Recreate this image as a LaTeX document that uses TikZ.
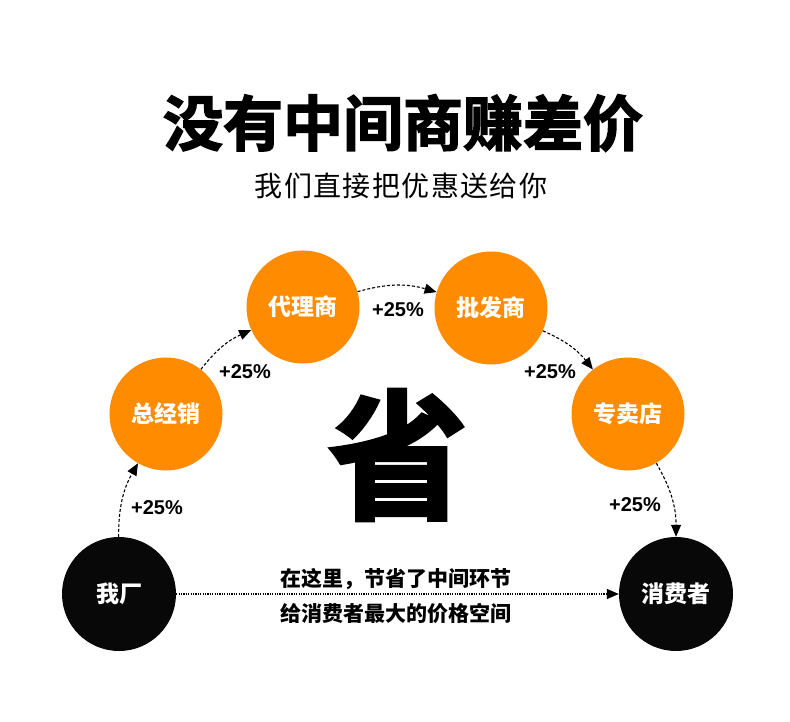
\documentclass[tikz,border=0pt]{standalone}
\usepackage{fontspec}
\usepackage{tikz}
\usetikzlibrary{arrows.meta}
\newfontfamily\cjk{Noto Sans CJK SC}
\newfontfamily\cjkheavy[FakeBold=2.5]{Noto Sans CJK SC Bold}
\newfontfamily\latinsans{Liberation Sans}
\definecolor{dotorange}{RGB}{255,139,0}
\definecolor{dotblack}{RGB}{8,8,8}
\tikzset{every picture/.append style={x=1pt, y=-1pt}}
\tikzset{
    orangedot/.style={circle, fill=dotorange, draw=none, minimum size=113pt,
    	inner sep=0pt, text=white, font=\cjk\bfseries\fontsize{23}{23}\selectfont},
    blackdot/.style={circle, fill=dotblack, draw=none, minimum size=114pt,
    	inner sep=0pt, text=white, font=\cjk\bfseries\fontsize{23}{23}\selectfont},
    gain/.style={inner sep=0pt, font=\latinsans\bfseries\fontsize{20}{20}\selectfont},
    note/.style={inner sep=0pt, font=\cjk\bfseries\fontsize{21}{21}\selectfont},
    hop/.style={-{Triangle[length=12pt,width=10pt]}, line width=1.1pt,
    	dash pattern=on 3pt off 2pt},
    skip/.style={-{Triangle[length=12pt,width=10pt]}, line width=1.2pt,
    	dash pattern=on 1.2pt off 1.2pt}
}
\begin{document}
\begin{tikzpicture}
  \useasboundingbox [fill=white] (0, 0) rectangle (790, 722);
  \node (title) [inner sep=0pt, font=\cjkheavy\fontsize{60}{60}\selectfont]
    at (403, 123) {没有中间商赚差价};
  \node (subtitle) [inner sep=0pt,
    font=\cjk\fontsize{28}{28}\selectfont\addfontfeature{LetterSpace=5}]
    at (401, 186) {我们直接把优惠送给你};
  \node (save) [inner sep=0pt, font=\cjkheavy\fontsize{140}{140}\selectfont]
    at (398, 455) {省};

  \node (factory) [blackdot] at (119, 594) {我厂};
  \node (general) [orangedot] at (166, 414) {总经销};
  \node (agent) [orangedot] at (303, 307) {代理商};
  \node (wholesale) [orangedot] at (491, 308) {批发商};
  \node (store) [orangedot] at (628, 414) {专卖店};
  \node (consumer) [blackdot] at (676, 594) {消费者};

  \node (g_1) [gain] at (157, 508) {+25\%};
  \node (g_2) [gain] at (245, 372) {+25\%};
  \node (g_3) [gain] at (398, 310) {+25\%};
  \node (g_4) [gain] at (550, 372) {+25\%};
  \node (g_5) [gain] at (635, 505) {+25\%};
  \node (n_1) [note] at (396, 579) {在这里，节省了中间环节};
  \node (n_2) [note] at (396, 613) {给消费者最大的价格空间};

  \draw (factory) edge [hop, bend left=15] (general);
  \draw (general) edge [hop, bend left=14] (agent);
  \draw (agent) edge [hop, bend left=16] (wholesale);
  \draw (wholesale) edge [hop, bend left=14] (store);
  \draw (store) edge [hop, bend left=15] (consumer);
  \draw (factory) edge [skip] (consumer);
\end{tikzpicture}
\end{document}
